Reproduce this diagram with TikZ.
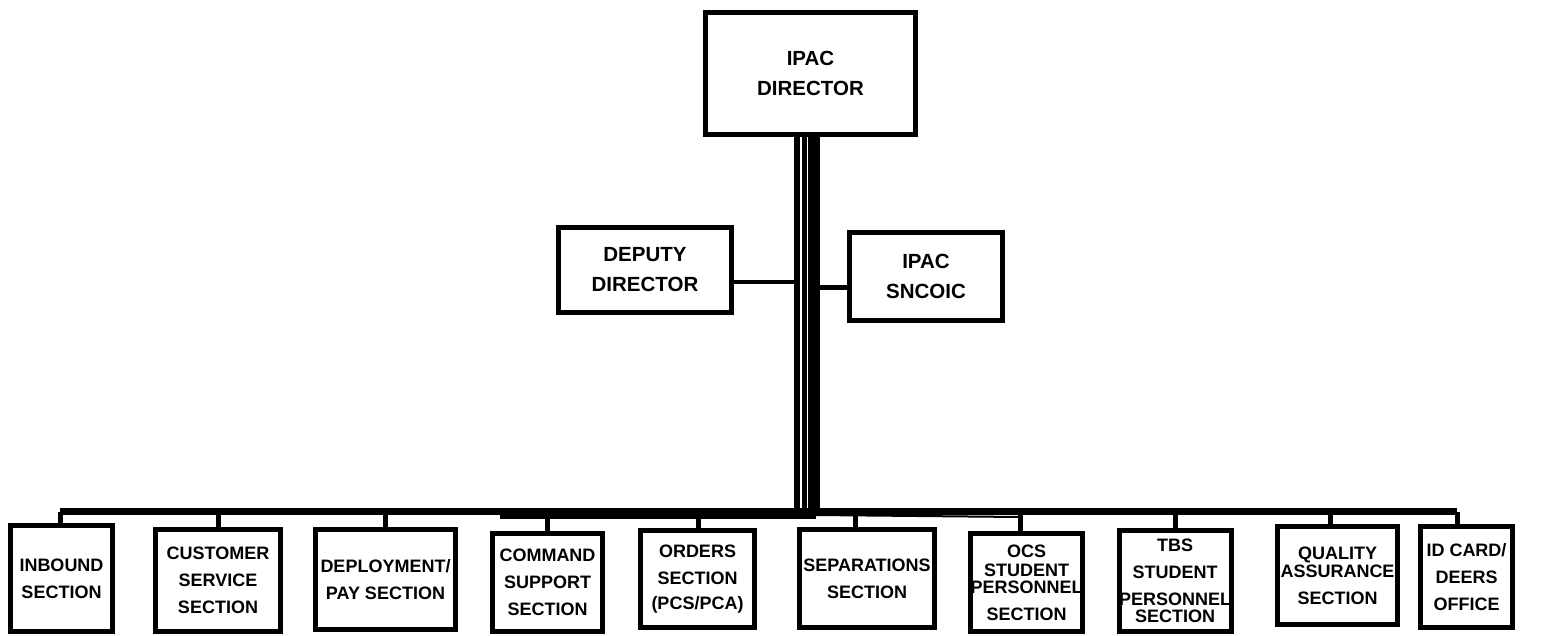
\documentclass[tikz,border=0pt]{standalone}
\usepackage{fontspec}
\setmainfont{Liberation Sans}
\tikzset{
  unit/.style={draw, line width=5pt, rectangle, align=center, inner sep=0pt,
    font=\bfseries\fontsize{18}{27}\selectfont},
  head/.style={unit, font=\bfseries\fontsize{20.5}{30}\selectfont},
  link/.style={line width=5pt},
}
\begin{document}
\begin{tikzpicture}[x=1pt, y=-1pt]
    \useasboundingbox (0,0) rectangle (1550,635);
    \node[head, minimum width=210, minimum height=122] (dir) at (810.5,73.5) {IPAC\\DIRECTOR};
    \node[head, minimum width=173, minimum height=85] (dep) at (645,270) {DEPUTY\\DIRECTOR};
    \node[head, minimum width=153, minimum height=88] (snc) at (926,276.5) {IPAC\\SNCOIC};
    \node[unit, minimum width=102, minimum height=106] (inb) at (61.5,578.5) {INBOUND\\SECTION};
    \node[unit, minimum width=125, minimum height=102] (cus) at (218,580.5) {CUSTOMER\\SERVICE\\SECTION};
    \node[unit, minimum width=140, minimum height=100] (dpl) at (385.5,579.5) {DEPLOYMENT/\\PAY SECTION};
    \node[unit, minimum width=110, minimum height=98] (cmd) at (547.5,582.5) {COMMAND\\SUPPORT\\SECTION};
    \node[unit, minimum width=114, minimum height=97] (ord) at (697.5,579) {ORDERS\\SECTION\\[-2pt](PCS/PCA)};
    \node[unit, minimum width=135, minimum height=98] (sep) at (867,578.5) {SEPARATIONS\\SECTION};
    \node[unit, minimum width=112, minimum height=98] (ocs) at (1026.5,582.5) {OCS\\[-8pt]STUDENT\\[-10pt]PERSONNEL\\SECTION};
    \node[unit, minimum width=105, minimum height=101] (tbs) at (1175,581) {TBS\\STUDENT\\PERSONNEL\\[-10pt]SECTION};
    \node[unit, minimum width=120, minimum height=98] (qua) at (1337.5,575.5) {QUALITY\\[-9pt]ASSURANCE\\SECTION};
    \node[unit, minimum width=92, minimum height=101] (idc) at (1466.5,577) {ID CARD/\\DEERS\\OFFICE};
    \coordinate (busL) at (60,511.5);
    \coordinate (busR) at (1457,511.5);
    \coordinate (j) at (808,515);
    \draw[line width=7pt] (busL) -- (busR);
    \draw[line width=7pt] (500,515) -- (j -| 816,0);
    \draw[line width=2pt] (j -| 816,0) -- (1020,517);
    \draw[line width=6pt] (dir.south -| 797,0) -- (j -| 797,0);
    \draw[line width=5pt] (dir.south -| 804,0) -- (j -| 804,0);
    \draw[line width=12pt] (dir.south -| 814,0) -- (j -| 814,0);
    \draw[line width=4pt] (dep.east |- 0,282) -- (797,282);
    \draw[link] (snc.west |- 0,287.5) -- (814,287.5);
    \foreach \n/\x in {inb/60, cus/218, dpl/385, cmd/547, ord/698, sep/855, ocs/1020, tbs/1175, qua/1330, idc/1457}
        \draw[link] (\x,511.5) -- (\n.north -| \x,0);
\end{tikzpicture}
\end{document}
